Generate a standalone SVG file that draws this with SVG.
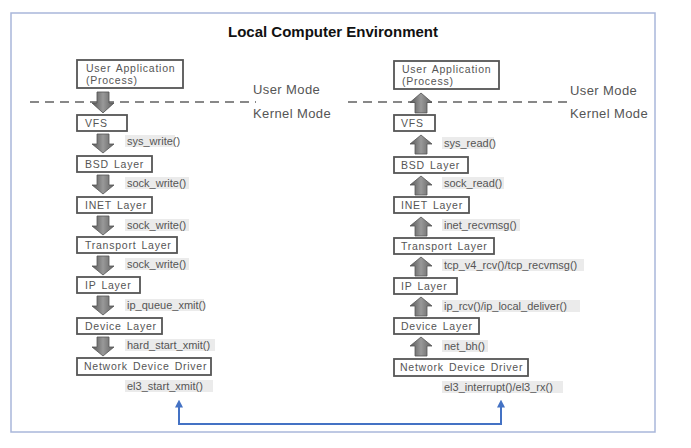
<svg xmlns="http://www.w3.org/2000/svg" xmlns:xlink="http://www.w3.org/1999/xlink" width="691" height="448" viewBox="0 0 691 448">
<style>
.box{fill:#fff;stroke:#555;stroke-width:1.8}
.bt{font-family:"Liberation Sans",Arial,sans-serif;font-size:10.5px;fill:#555;letter-spacing:0.75px;word-spacing:1.5px}
.lb{font-family:"Liberation Sans",Arial,sans-serif;font-size:11px;fill:#555}
.lbg{fill:#ebebeb}
.mode{font-family:"Liberation Sans",Arial,sans-serif;font-size:13px;fill:#555;letter-spacing:0.4px}
.dash{stroke:#888;stroke-width:2;stroke-dasharray:9,6;fill:none}
.arr{fill:url(#g);stroke:#555;stroke-width:0.8}
</style>
<defs>
<linearGradient id="g" x1="0" y1="0" x2="1" y2="0">
<stop offset="0" stop-color="#555"/>
<stop offset="0.5" stop-color="#999"/>
<stop offset="1" stop-color="#606060"/>
</linearGradient>
<path id="down" class="arr" d="M-6,0 H6 V10 H11 L0,19 L-11,10 H-6 Z"/>
<path id="up" class="arr" d="M0,0 L11,9 H6 V19 H-6 V9 H-11 Z"/>
<marker id="ah" viewBox="0 0 10 10" refX="2" refY="5" markerWidth="4" markerHeight="4" orient="auto-start-reverse">
<path d="M0,0 L10,5 L0,10 Z" fill="#4472c4"/>
</marker>
</defs>
<rect x="0" y="0" width="691" height="448" fill="#fff"/>
<rect x="11" y="13" width="644" height="419" fill="#fff" stroke="#a9b7da" stroke-width="1.5"/>
<text x="333" y="37" text-anchor="middle" font-family="'Liberation Sans',Arial,sans-serif" font-size="15px" font-weight="bold" fill="#111">Local Computer Environment</text>

<g id="modes">
<line class="dash" x1="30" y1="102" x2="256" y2="102"/>
<line class="dash" x1="348" y1="102" x2="570" y2="102"/>
<text class="mode" x="253" y="94">User Mode</text>
<text class="mode" x="253" y="118">Kernel Mode</text>
<text class="mode" x="570" y="95">User Mode</text>
<text class="mode" x="570" y="118">Kernel Mode</text>
</g>

<g id="connectors">
<use xlink:href="#down" transform="translate(103,92) scale(1,1.1)"/>
<use xlink:href="#down" x="103" y="134"/>
<use xlink:href="#down" x="103" y="175"/>
<use xlink:href="#down" x="103" y="216"/>
<use xlink:href="#down" x="103" y="256"/>
<use xlink:href="#down" x="103" y="296"/>
<use xlink:href="#down" x="103" y="337"/>
<use xlink:href="#up" transform="translate(421,93) scale(1,1.05)"/>
<use xlink:href="#up" x="421" y="135"/>
<use xlink:href="#up" x="421" y="176"/>
<use xlink:href="#up" x="421" y="217"/>
<use xlink:href="#up" x="421" y="257"/>
<use xlink:href="#up" x="421" y="297"/>
<use xlink:href="#up" x="421" y="337"/>
<path d="M179,406 V424 H501 V406" fill="none" stroke="#4472c4" stroke-width="2" marker-start="url(#ah)" marker-end="url(#ah)"/>
</g>

<g id="labels">
<rect class="lbg" x="125" y="135" width="50" height="12"/><text class="lb" x="127" y="145">sys_write()</text>
<rect class="lbg" x="125" y="177" width="64" height="12"/><text class="lb" x="127" y="187">sock_write()</text>
<rect class="lbg" x="125" y="219" width="64" height="12"/><text class="lb" x="127" y="229">sock_write()</text>
<rect class="lbg" x="125" y="258" width="64" height="12"/><text class="lb" x="127" y="268">sock_write()</text>
<rect class="lbg" x="125" y="299" width="79" height="12"/><text class="lb" x="127" y="309">ip_queue_xmit()</text>
<rect class="lbg" x="125" y="339" width="90" height="12"/><text class="lb" x="127" y="349">hard_start_xmit()</text>
<rect class="lbg" x="125" y="380" width="88" height="12"/><text class="lb" x="127" y="390">el3_start_xmit()</text>
<rect class="lbg" x="442" y="137" width="52" height="12"/><text class="lb" x="444" y="147">sys_read()</text>
<rect class="lbg" x="442" y="177" width="62" height="12"/><text class="lb" x="444" y="187">sock_read()</text>
<rect class="lbg" x="442" y="219" width="78" height="12"/><text class="lb" x="444" y="229">inet_recvmsg()</text>
<rect class="lbg" x="442" y="259" width="142" height="12"/><text class="lb" x="444" y="269">tcp_v4_rcv()/tcp_recvmsg()</text>
<rect class="lbg" x="442" y="300" width="138" height="12"/><text class="lb" x="444" y="310">ip_rcv()/ip_local_deliver()</text>
<rect class="lbg" x="442" y="340" width="46" height="12"/><text class="lb" x="444" y="350">net_bh()</text>
<rect class="lbg" x="442" y="381" width="121" height="12"/><text class="lb" x="444" y="391">el3_interrupt()/el3_rx()</text>
</g>

<g id="l-ua"><rect class="box" x="77" y="60" width="106" height="28"/><text class="bt" x="86" y="72">User Application</text><text class="bt" x="86" y="84">(Process)</text></g>
<g id="l-vfs"><rect class="box" x="77" y="115" width="50" height="16"/><text class="bt" x="85" y="127">VFS</text></g>
<g id="l-bsd"><rect class="box" x="77" y="156" width="75" height="16"/><text class="bt" x="85" y="168">BSD Layer</text></g>
<g id="l-inet"><rect class="box" x="77" y="197" width="75" height="16"/><text class="bt" x="85" y="209">INET Layer</text></g>
<g id="l-tr"><rect class="box" x="77" y="237" width="100" height="16"/><text class="bt" x="85" y="249">Transport Layer</text></g>
<g id="l-ip"><rect class="box" x="77" y="277" width="63" height="16"/><text class="bt" x="85" y="289">IP Layer</text></g>
<g id="l-dev"><rect class="box" x="77" y="318" width="85" height="16"/><text class="bt" x="85" y="330">Device Layer</text></g>
<g id="l-ndd"><rect class="box" x="77" y="358" width="134" height="17"/><text class="bt" x="84" y="370">Network Device Driver</text></g>

<g id="r-ua"><rect class="box" x="394" y="61" width="105" height="28"/><text class="bt" x="402" y="73">User Application</text><text class="bt" x="402" y="85">(Process)</text></g>
<g id="r-vfs"><rect class="box" x="394" y="115" width="41" height="16"/><text class="bt" x="401" y="127">VFS</text></g>
<g id="r-bsd"><rect class="box" x="394" y="157" width="74" height="16"/><text class="bt" x="401" y="169">BSD Layer</text></g>
<g id="r-inet"><rect class="box" x="394" y="197" width="75" height="16"/><text class="bt" x="401" y="209">INET Layer</text></g>
<g id="r-tr"><rect class="box" x="394" y="238" width="100" height="16"/><text class="bt" x="401" y="250">Transport Layer</text></g>
<g id="r-ip"><rect class="box" x="394" y="278" width="63" height="16"/><text class="bt" x="401" y="290">IP Layer</text></g>
<g id="r-dev"><rect class="box" x="394" y="318" width="85" height="16"/><text class="bt" x="401" y="330">Device Layer</text></g>
<g id="r-ndd"><rect class="box" x="394" y="359" width="134" height="17"/><text class="bt" x="400" y="371">Network Device Driver</text></g>
</svg>
